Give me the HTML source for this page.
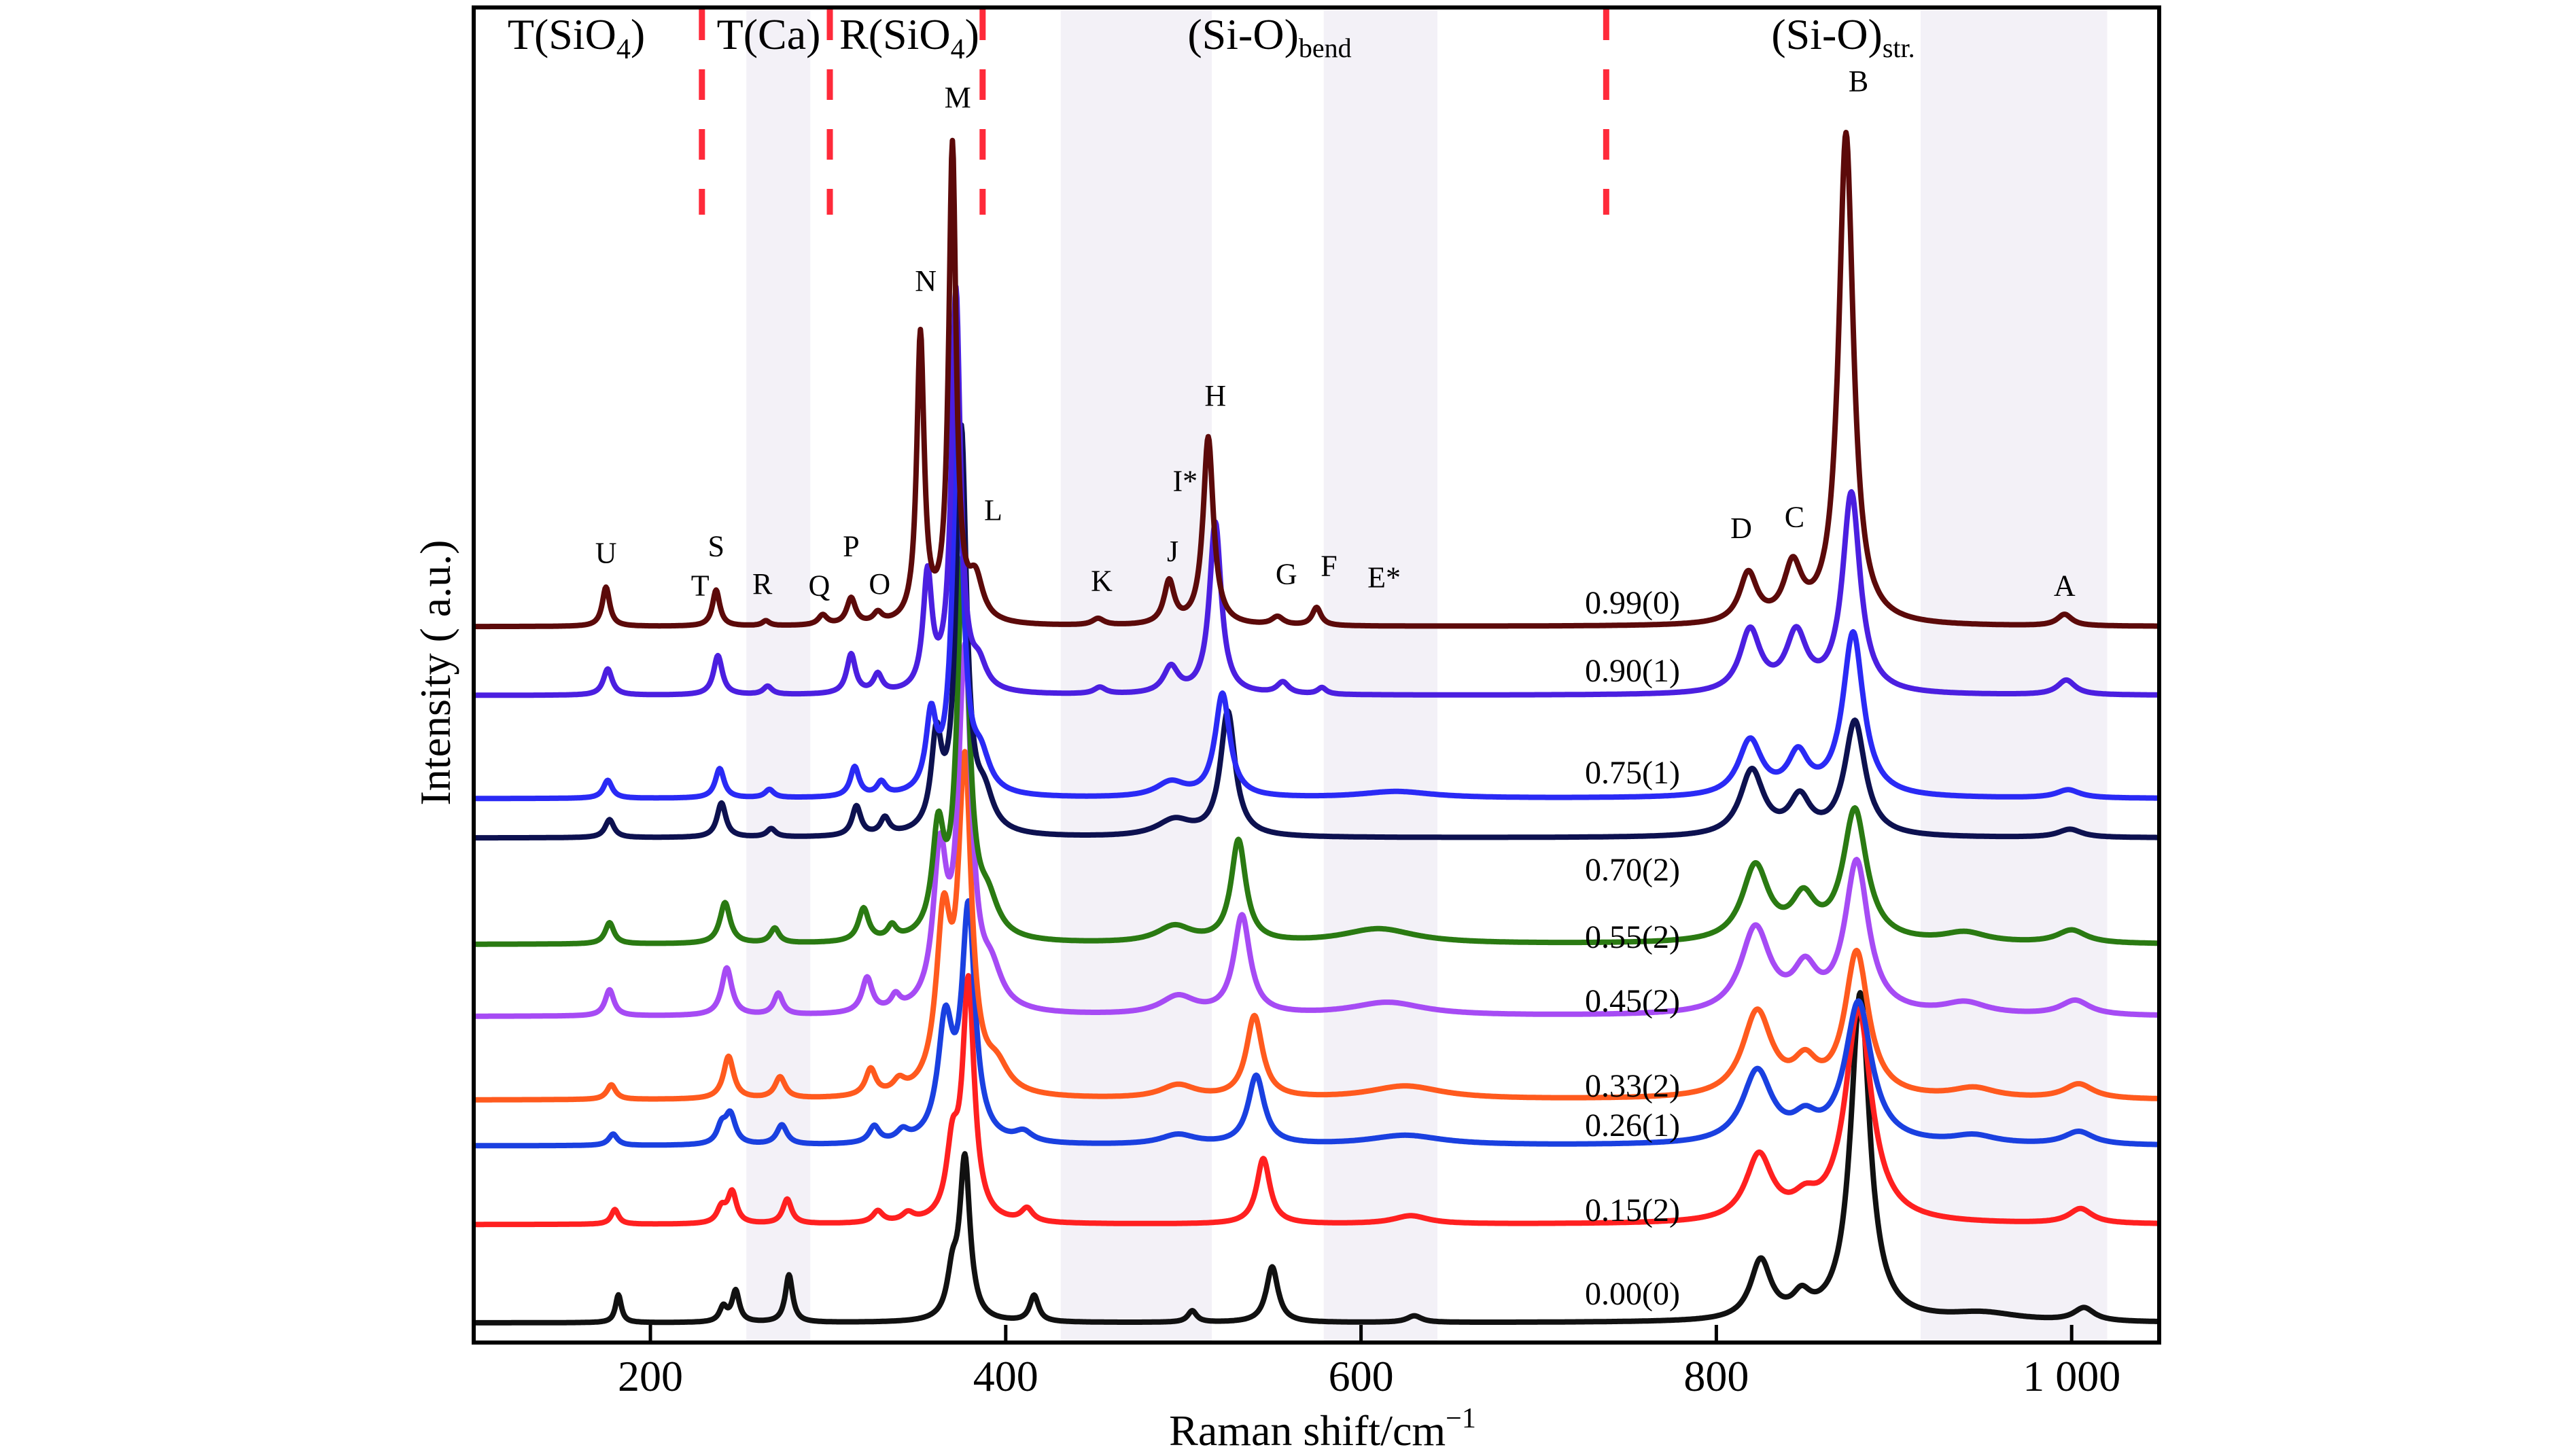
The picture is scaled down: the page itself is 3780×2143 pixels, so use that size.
<!DOCTYPE html>
<html><head><meta charset="utf-8"><style>
html,body{margin:0;padding:0;background:#fff}
svg{display:block;font-family:"Liberation Serif","Times New Roman",serif}
text{font-family:"Liberation Serif","Times New Roman",serif;fill:#000}
</style></head><body>
<svg id="chart" width="3780" height="2143" viewBox="0 0 3780 2143" xmlns="http://www.w3.org/2000/svg" font-family="Liberation Serif, serif">
<defs><clipPath id="plotclip"><rect x="697" y="11" width="2480" height="1965"/></clipPath></defs>
<g id="bands"></g>
<g id="dashes"></g>
<g id="series" clip-path="url(#plotclip)"></g>
<rect x="697" y="11" width="2480" height="1965" fill="none" stroke="#000" stroke-width="6"/>
<g id="ticks"></g>
<g font-size="64">
<text x="848" y="72" text-anchor="middle">T(SiO<tspan font-size="42" dy="14">4</tspan><tspan dy="-14">)</tspan></text>
<text x="1131" y="72" text-anchor="middle">T(Ca)</text>
<text x="1338" y="72" text-anchor="middle">R(SiO<tspan font-size="42" dy="14">4</tspan><tspan dy="-14">)</tspan></text>
<text x="1868" y="72" text-anchor="middle">(Si-O)<tspan font-size="40" dy="12">bend</tspan></text>
<text x="2712" y="72" text-anchor="middle">(Si-O)<tspan font-size="40" dy="12">str.</tspan></text>
</g>
<g id="peaklabels" font-size="44" text-anchor="middle"></g>
<g id="samplelabels" font-size="48"></g>
<text x="1946" y="2127" font-size="64" text-anchor="middle">Raman shift/cm<tspan font-size="42" dy="-26">−1</tspan></text>
<text x="0" y="0" font-size="64" text-anchor="middle" transform="translate(662,990) rotate(-90)">Intensity ( a.u.)</text>
</svg>
<script>
// ---- data ----
const seriesLabels = ["0.00(0)","0.15(2)","0.26(1)","0.33(2)","0.45(2)","0.55(2)","0.70(2)","0.75(1)","0.90(1)","0.99(0)"];
const baselines = [12, 72, 120, 148, 199, 243, 308, 332, 395, 437];
const peaks00 = [[182,17,2],[241,9,2.5],[248,19,2.5],[278,29,2.5],[370,25,3.5],[377,98,3.5],[416,16,3],[505,7,3],[550,34,4],[630,4,5],[825,36,7],[848,12,6],[881,200,6.5],[950,5,25],[1007,8,7]];
const peaks15 = [[180,9,2.5],[240,9,3],[246,19,3],[277,15,3],[328,7,3.5],[345,5,4],[370,40,4],[379,145,4],[412,8,4],[545,40,4.5],[628,5,12],[824,40,9],[850,10,8],[880,130,9],[1005,9,8]];
const peaks26 = [[179,7,3],[240,10,3],[245,18,3.5],[274,12,3.5],[326,10,3.5],[342,6,4],[366,70,5],[379,140,4.5],[410,6,6],[497,6,12],[541,42,5.5],[625,6,25],[823,44,10],[850,12,8],[880,86,9],[945,5,15],[1004,8,10]];
const peaks33 = [[178,9,3],[244,26,3.5],[273,13,3.5],[324,16,3.5],[340,7,4],[365,100,5],[377,195,4.5],[395,15,8],[497,8,12],[540,50,5.5],[625,8,25],[823,52,10],[850,18,8],[879,88,8],[945,6,15],[1004,9,10]];
const peaks45 = [[177,16,3],[243,29,3.5],[272,13,3],[322,21,3.5],[338,8,3],[363,90,4.5],[377,215,4.5],[392,20,7],[497,11,12],[533,60,5.5],[615,8,25],[822,52,10],[850,24,8],[879,92,8],[940,7,15],[1002,9,10]];
const peaks55 = [[177,13,3],[242,25,3.5],[270,9,3],[320,20,3.5],[336,8,3],[362,62,4],[376,230,4],[390,20,7],[495,10,12],[531,62,5],[610,9,25],[822,46,9],[849,24,8],[878,80,8],[940,6,15],[1000,8,10]];
const peaks70 = [[177,11,3],[240,21,3],[268,5,3],[316,18,3],[332,10,3],[361,55,3.5],[375,245,3.5],[388,20,6],[495,10,12],[525,76,5],[820,40,8],[847,22,7],[878,70,7],[999,5,8]];
const peaks75 = [[176,11,3],[239,18,3],[267,5,3],[315,18,3],[330,8,3],[358,45,3.5],[373,230,3.5],[386,20,6],[493,9,10],[522,63,5],[620,4,25],[819,34,8],[846,24,7],[877,100,7],[998,5,8]];
const peaks90 = [[176,16,3],[238,24,3],[266,5,3],[313,24,3],[328,11,3],[356,70,3],[372,245,3],[385,14,5],[453,4,4],[493,16,5],[518,105,4],[556,7,4],[578,4,3],[819,38,7],[845,35,7],[876,122,6],[997,9,6]];
const peaks99 = [[175,24,2.5],[237,22,2.5],[265,3,2.5],[297,6,3],[313,16,3],[328,6,3],[352,175,2.5],[370,290,2.5],[383,25,5],[452,4,4],[492,26,3.5],[514,115,3.5],[553,5,4],[575,11,3],[818,30,6],[843,33,6],[873,300,5],[996,7,5]];
const allPeaks = [peaks00,peaks15,peaks26,peaks33,peaks45,peaks55,peaks70,peaks75,peaks90,peaks99];
const xTicks = [200,400,600,800,1000];
const xTickLabels = ["200","400","600","800","1 000"];
const bandRanges = [[254,290],[431,516],[579,643],[915,1020]];
const dividerPositions = [229,301,387,738];
const peakNames = ["U","T","S","R","Q","P","O","N","M","L","K","J","I*","H","G","F","E*","D","C","B","A"];
const peakLabelX = [175,228,237,263,295,313,329,355,373,393,454,494,501,518,558,582,613,814,844,880,996];
const peakLabelY = [476,456,480,457,456,480,457,642,754,502,459,477,520,572,463,468,461,491,498,764,456];
const labelBaselineY = [1920,1797,1672,1614,1489,1395,1296,1153,1003,903];
// ---- styles ----
const colors = ["#111111","#ff2020","#1a40e0","#ff5a1e","#a64bf4","#2a7a12","#0d1150","#2a2af5","#4b1fe0","#5c0a0a"];
const X0=697,X1=3177,Y0=1976,Y1=11;
const xScale = v => 957 + (v-200)*2.614;
const yScale = v => Y0 - v*((Y0-Y1)/815);
const NS="http://www.w3.org/2000/svg";
function mk(tag, parent){const e=document.createElementNS(NS,tag);parent.appendChild(e);return e;}
const bands=document.getElementById('bands');
bandRanges.forEach((b,i)=>{
  const r=mk('rect',bands);
  
  
  r.setAttribute('x',xScale(b[0]));r.setAttribute('y',Y1);
  r.setAttribute('width',xScale(b[1])-xScale(b[0]));r.setAttribute('height',Y0-Y1);
  r.setAttribute('fill','#f3f1f7');
});
const dashes=document.getElementById('dashes');
dividerPositions.forEach(p=>{
  const l=mk('line',dashes);
  
  
  l.setAttribute('x1',xScale(p));l.setAttribute('x2',xScale(p));
  l.setAttribute('y1',14);l.setAttribute('y2',316);
  l.setAttribute('stroke','#ff2a3a');l.setAttribute('stroke-width',9);
  l.setAttribute('stroke-dasharray','45 43');
});
const ser=document.getElementById('series');
for(let s=0;s<allPeaks.length;s++){
  const pk=allPeaks[s];let d='';
  for(let v=100;v<=1050;v+=0.5){
    let y=baselines[s];
    for(const p of pk){const t=(v-p[0])/p[2];y+=p[1]/(1+t*t);}
    d+=(d?'L':'M')+xScale(v).toFixed(1)+','+yScale(y).toFixed(1);
  }
  const path=mk('path',ser);
  
  
  path.setAttribute('d',d);path.setAttribute('fill','none');
  path.setAttribute('stroke',colors[s]);path.setAttribute('stroke-width',8);
  path.setAttribute('stroke-linejoin','round');
}
const ticks=document.getElementById('ticks');
xTicks.forEach((t,i)=>{
  const l=mk('line',ticks);
  
  
  l.setAttribute('x1',xScale(t));l.setAttribute('x2',xScale(t));
  l.setAttribute('y1',Y0-26);l.setAttribute('y2',Y0);
  l.setAttribute('stroke','#000');l.setAttribute('stroke-width',5);
  const tx=mk('text',ticks);
  
  
  tx.setAttribute('x',xScale(t));tx.setAttribute('y',2047);
  tx.setAttribute('font-size',64);tx.setAttribute('text-anchor','middle');
  tx.textContent=xTickLabels[i];
});
const pl=document.getElementById('peaklabels');
peakNames.forEach((n,i)=>{
  const t=mk('text',pl);
  
  
  t.setAttribute('x',xScale(peakLabelX[i]));t.setAttribute('y',yScale(peakLabelY[i]));
  t.textContent=n;
});
const sl=document.getElementById('samplelabels');
seriesLabels.forEach((n,i)=>{
  const t=mk('text',sl);
  
  
  t.setAttribute('x',2332);t.setAttribute('y',labelBaselineY[i]);
  t.textContent=n;
});
</script>
</body></html>
